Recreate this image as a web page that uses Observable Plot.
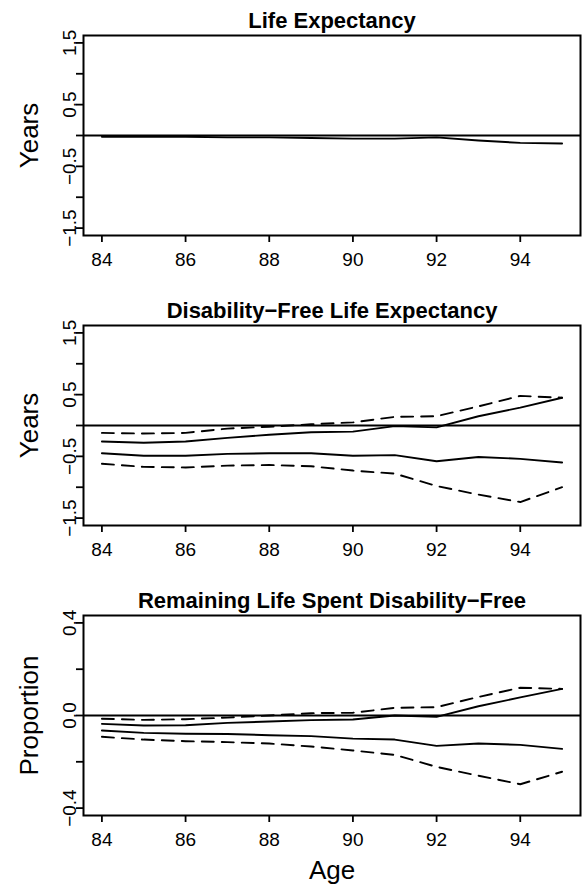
<!DOCTYPE html>
<html>
<head>
<meta charset="utf-8">
<script src="https://cdn.jsdelivr.net/npm/d3@7"></script>
<script src="https://cdn.jsdelivr.net/npm/@observablehq/plot@0.6"></script>
<style>
  html, body { margin: 0; padding: 0; background: #fff; }
  #chart svg { display: block; }
</style>
</head>
<body>
<div id="chart"></div>
<script>
// ---- data ----
const ages = [84, 85, 86, 87, 88, 89, 90, 91, 92, 93, 94, 95];
const xTicks = [84, 86, 88, 90, 92, 94];

// Panel 1: Life Expectancy (years)
const leDiff = [-0.02, -0.02, -0.02, -0.03, -0.03, -0.04, -0.05, -0.05, -0.03, -0.08, -0.12, -0.13];

// Panel 2: Disability-Free Life Expectancy (years)
const dfleUpperBound = [-0.12, -0.13, -0.12, -0.05, -0.02, 0.02, 0.05, 0.14, 0.15, 0.31, 0.48, 0.45];
const dfleUpperEst   = [-0.26, -0.28, -0.26, -0.20, -0.15, -0.11, -0.10, -0.01, -0.03, 0.15, 0.29, 0.45];
const dfleLowerEst   = [-0.45, -0.49, -0.49, -0.46, -0.45, -0.45, -0.49, -0.48, -0.58, -0.51, -0.54, -0.60];
const dfleLowerBound = [-0.62, -0.67, -0.68, -0.65, -0.64, -0.66, -0.73, -0.78, -0.98, -1.12, -1.24, -1.00];

// Panel 3: Remaining Life Spent Disability-Free (proportion)
const propUpperBound = [-0.014, -0.019, -0.016, -0.009, 0.000, 0.010, 0.012, 0.033, 0.036, 0.080, 0.120, 0.115];
const propUpperEst   = [-0.036, -0.043, -0.042, -0.032, -0.026, -0.020, -0.017, 0.000, -0.006, 0.040, 0.078, 0.115];
const propLowerEst   = [-0.065, -0.075, -0.079, -0.080, -0.085, -0.089, -0.100, -0.104, -0.131, -0.121, -0.127, -0.144];
const propLowerBound = [-0.092, -0.104, -0.111, -0.115, -0.121, -0.134, -0.151, -0.170, -0.222, -0.260, -0.297, -0.243];

const yearsTicks = [-1.5, -1, -0.5, 0, 0.5, 1, 1.5];
const yearsLabels = [-1.5, -0.5, 0.5, 1.5];
const propTicks = [-0.4, -0.2, 0, 0.2, 0.4];
const propLabels = [-0.4, 0, 0.4];

const titles = ["Life Expectancy", "Disability\u2212Free Life Expectancy", "Remaining Life Spent Disability\u2212Free"];
const yTitles = ["Years", "Years", "Proportion"];
const xTitle = "Age";

// ---- helpers ----
function rows(values, series, dashed) {
  return ages.map((age, i) => ({age, value: values[i], series, dashed}));
}
const fmt = (v, digits) => (v < 0 ? "\u2212" : "") + Math.abs(v).toFixed(digits);

function panel({title, yTitle, data, domain, ticks, labels, digits, height, marginBottom, showXTitle}) {
  const marks = [
    Plot.frame({strokeWidth: 2}),
    Plot.ruleY([0], {strokeWidth: 1.8}),
    Plot.line(data.filter(d => !d.dashed), {x: "age", y: "value", z: "series", strokeWidth: 1.9}),
    Plot.line(data.filter(d => d.dashed), {x: "age", y: "value", z: "series", strokeWidth: 1.9, strokeDasharray: "12,8"}),
    Plot.axisX({ticks: xTicks, tickSize: 7, strokeWidth: 1.8, tickFormat: () => "", label: null}),
    Plot.text(xTicks, {x: d => d, text: d => String(d), frameAnchor: "bottom", dy: 30.5, lineAnchor: "bottom", fontSize: 19}),
    Plot.axisY({ticks: ticks, tickSize: 7, strokeWidth: 1.8, tickFormat: () => "", label: null}),
    Plot.text(labels, {y: d => d, text: d => fmt(d, digits), frameAnchor: "left", dx: -8, rotate: -90, textAnchor: "middle", lineAnchor: "bottom", fontSize: 19}),
    Plot.text([yTitle], {text: d => d, frameAnchor: "left", dx: -46, rotate: -90, textAnchor: "middle", lineAnchor: "bottom", fontSize: 26}),
    Plot.text([title], {text: d => d, frameAnchor: "top", dy: -8, lineAnchor: "bottom", fontSize: 22, fontWeight: "bold"})
  ];
  if (showXTitle) {
    marks.push(Plot.text([xTitle], {text: d => d, frameAnchor: "bottom", dy: 63, lineAnchor: "bottom", fontSize: 26}));
  }
  return Plot.plot({
    width: 587,
    height,
    marginLeft: 83,
    marginRight: 7,
    marginTop: 35,
    marginBottom,
    style: {fontFamily: "'Liberation Sans', Arial, Helvetica, sans-serif", color: "#000", background: "#fff", overflow: "visible"},
    x: {domain: [83.56, 95.44], label: null},
    y: {domain, label: null},
    marks
  });
}

const chart = document.getElementById("chart");
chart.append(panel({
  title: titles[0], yTitle: yTitles[0],
  data: rows(leDiff, "le", false),
  domain: [-1.62, 1.62], ticks: yearsTicks, labels: yearsLabels, digits: 1,
  height: 290, marginBottom: 55
}));
chart.append(panel({
  title: titles[1], yTitle: yTitles[1],
  data: [
    ...rows(dfleUpperBound, "ub", true),
    ...rows(dfleUpperEst, "ue", false),
    ...rows(dfleLowerEst, "le", false),
    ...rows(dfleLowerBound, "lb", true)
  ],
  domain: [-1.62, 1.62], ticks: yearsTicks, labels: yearsLabels, digits: 1,
  height: 290, marginBottom: 55
}));
chart.append(panel({
  title: titles[2], yTitle: yTitles[2],
  data: [
    ...rows(propUpperBound, "ub", true),
    ...rows(propUpperEst, "ue", false),
    ...rows(propLowerEst, "le", false),
    ...rows(propLowerBound, "lb", true)
  ],
  domain: [-0.432, 0.432], ticks: propTicks, labels: propLabels, digits: 1,
  height: 304, marginBottom: 69, showXTitle: true
}));
</script>
</body>
</html>
